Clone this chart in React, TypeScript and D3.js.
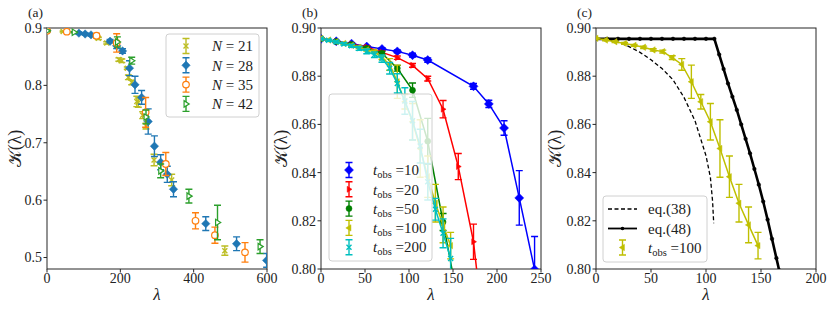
import React from 'react'
import * as d3 from 'd3'

// ---------- panel (a) ----------
const lamA21 = [0, 44, 140, 163, 196, 204, 219, 222, 231, 245, 249, 261, 270, 292, 340, 485]
const kA21 = [0.895, 0.894, 0.882, 0.874, 0.845, 0.843, 0.83, 0.814, 0.805, 0.772, 0.77, 0.748, 0.729, 0.67, 0.635, 0.512]
const errA21 = [0.001, 0.001, 0.002, 0.002, 0.003, 0.003, 0.002, 0.004, 0.004, 0.009, 0.008, 0.006, 0.005, 0.01, 0.01, 0.008]

const lamA28 = [0, 87, 104, 120, 172, 190, 206, 225, 240, 258, 276, 293, 310, 328, 345, 433, 517, 599]
const kA28 = [0.895, 0.891, 0.8895, 0.888, 0.877, 0.869, 0.86, 0.83, 0.801, 0.779, 0.737, 0.694, 0.666, 0.645, 0.619, 0.559, 0.524, 0.495]
const errA28 = [0.001, 0.002, 0.002, 0.002, 0.003, 0.005, 0.004, 0.013, 0.015, 0.012, 0.022, 0.018, 0.013, 0.014, 0.013, 0.012, 0.012, 0.012]

const lamA35 = [0, 54, 135, 190, 269, 324, 405, 458, 540]
const kA35 = [0.895, 0.8936, 0.8866, 0.874, 0.753, 0.663, 0.564, 0.539, 0.509]
const errA35 = [0.001, 0.001, 0.004, 0.016, 0.026, 0.02, 0.014, 0.014, 0.017]

const lamA42 = [0, 74, 192, 231, 270, 310, 387, 465, 581]
const kA42 = [0.895, 0.8925, 0.8756, 0.843, 0.745, 0.651, 0.607, 0.561, 0.519]
const errA42 = [0.001, 0.001, 0.009, 0.006, 0.012, 0.012, 0.012, 0.03, 0.012]

const labelsA = ['21', '28', '35', '42']

// ---------- panel (b) ----------
const lamT10 = [0, 17.3, 34.7, 52, 69.3, 86.7, 104, 121.3, 173.3, 190.7, 208, 225.3, 242.7]
const kT10 = [0.8955, 0.8945, 0.8935, 0.8923, 0.8913, 0.8903, 0.8887, 0.8867, 0.8758, 0.8685, 0.8585, 0.8295, 0.7998]
const errT10 = [0.0003, 0.0003, 0.0003, 0.0004, 0.0005, 0.0006, 0.0008, 0.0009, 0.0012, 0.0015, 0.003, 0.0113, 0.0137]

const lamT20 = [0, 17.3, 34.7, 52, 69.3, 86.7, 104, 121.3, 138.7, 156, 173.3, 190.7]
const kT20 = [0.8955, 0.8944, 0.8933, 0.8921, 0.8899, 0.8877, 0.8845, 0.879, 0.8663, 0.8425, 0.8113, 0.755]
const errT20 = [0.0003, 0.0003, 0.0004, 0.0005, 0.0006, 0.0007, 0.0008, 0.001, 0.0036, 0.0054, 0.0073, 0.01]

const lamT50 = [0, 17.3, 34.7, 52, 69.3, 86.7, 104, 121.3, 138.7, 156]
const kT50 = [0.8955, 0.8944, 0.8932, 0.8916, 0.8895, 0.8833, 0.8742, 0.853, 0.8195, 0.786]
const errT50 = [0.0003, 0.0003, 0.0004, 0.0005, 0.0008, 0.0012, 0.003, 0.0095, 0.0035, 0.008]

const lamT100 = [0, 8.7, 17.3, 26, 34.7, 43.3, 52, 60.7, 69.3, 78, 86.7, 95.3, 104, 112.7, 121.3, 130, 138.7, 147.3]
const kT100 = [0.8957, 0.895, 0.8943, 0.8936, 0.8928, 0.892, 0.8909, 0.8902, 0.8877, 0.8849, 0.8777, 0.8694, 0.8611, 0.85, 0.8383, 0.8273, 0.8183, 0.8097]
const errT100 = [0.0003, 0.0003, 0.0003, 0.0004, 0.0004, 0.0005, 0.0005, 0.0006, 0.0008, 0.0024, 0.0069, 0.003, 0.0076, 0.0119, 0.0086, 0.0078, 0.0074, 0.0055]

const lamT200 = [0, 8.7, 17.3, 26, 34.7, 43.3, 52, 60.7, 69.3, 78, 86.7, 95.3, 104, 112.7, 121.3, 130, 138.7, 147.3]
const kT200 = [0.8955, 0.8949, 0.8942, 0.8934, 0.8926, 0.8915, 0.8903, 0.8889, 0.8873, 0.8833, 0.877, 0.8697, 0.8615, 0.851, 0.8362, 0.8248, 0.8148, 0.8044]
const errT200 = [0.0003, 0.0004, 0.0004, 0.0005, 0.0006, 0.0008, 0.001, 0.0012, 0.0015, 0.0024, 0.004, 0.0055, 0.008, 0.007, 0.0076, 0.0045, 0.006, 0.0083]

const labelsB = ['10', '20', '50', '100', '200']

// ---------- panel (c) ----------
const lam38 = [0, 10, 20, 30, 40, 50, 60, 70, 80, 90, 100, 104, 106, 107]
const k38 = [0.8957, 0.8953, 0.8941, 0.8923, 0.8899, 0.8868, 0.8832, 0.8785, 0.8712, 0.8615, 0.847, 0.838, 0.828, 0.819]

const lam48 = [0, 10, 20, 30, 40, 50, 60, 70, 80, 90, 100, 107.6, 112, 116, 120, 124, 128, 132, 136, 140, 144, 148, 152, 156, 160, 164, 166.5]
const k48 = [0.8955, 0.8955, 0.8955, 0.8955, 0.8955, 0.8955, 0.8955, 0.8955, 0.8955, 0.8955, 0.8955, 0.8955, 0.889, 0.883, 0.877, 0.8715, 0.866, 0.86, 0.854, 0.848, 0.8415, 0.835, 0.828, 0.8205, 0.8125, 0.8045, 0.7995]

// ticks
const ticksAX = [0, 200, 400, 600]
const ticksAY = [0.5, 0.6, 0.7, 0.8, 0.9]
const ticksBX = [0, 50, 100, 150, 200, 250]
const ticksBY = [0.8, 0.82, 0.84, 0.86, 0.88, 0.9]
const ticksCX = [0, 50, 100, 150, 200]
const ticksCY = [0.8, 0.82, 0.84, 0.86, 0.88, 0.9]

const FONT = 'Liberation Serif'
const TOP = 28
const BOTTOM = 269

type Shape = 'x' | 'D' | 'o' | '>' | '<' | 'dot'

const Mark = ({ m, x, y, c, s, open }: { m: Shape; x: number; y: number; c: string; s: number; open?: boolean }) => {
    const fill = open ? 'white' : c
    if (m === 'x')
        return <path d={`M${x - s},${y - s}L${x + s},${y + s}M${x - s},${y + s}L${x + s},${y - s}`} stroke={c} strokeWidth={1.4} />
    if (m === 'D') return <path d={`M${x},${y - s}L${x + s},${y}L${x},${y + s}L${x - s},${y}Z`} fill={fill} stroke={c} strokeWidth={open ? 1.2 : 0.5} />
    if (m === 'o' || m === 'dot') return <circle cx={x} cy={y} r={s} fill={fill} stroke={c} strokeWidth={open ? 1.2 : 0.5} />
    if (m === '>')
        return <path d={`M${x + s},${y}L${x - s * 0.6},${y - s}L${x - s * 0.6},${y + s}Z`} fill={fill} stroke={c} strokeWidth={open ? 1.2 : 0.5} />
    return <path d={`M${x - s},${y}L${x + s * 0.6},${y - s}L${x + s * 0.6},${y + s}Z`} fill={fill} stroke={c} strokeWidth={0.5} />
}

interface SeriesDef {
    lam: number[]
    k: number[]
    err?: number[]
    color: string
    m: Shape
    s: number
    open?: boolean
    line?: boolean
    lw?: number
    dash?: string
}

const Series = ({ d, x, y, clip }: { d: SeriesDef; x: d3.ScaleLinear<number, number>; y: d3.ScaleLinear<number, number>; clip: string }) => {
    const pts = d.lam.map((l, i) => [x(l), y(d.k[i])] as [number, number])
    const line = d3.line()(pts) || ''
    const cap = 3.5
    return (
        <g clipPath={`url(#${clip})`}>
            {d.line && <path d={line} fill="none" stroke={d.color} strokeWidth={d.lw ?? 1.5} strokeDasharray={d.dash} />}
            {d.err &&
                d.lam.map((l, i) => {
                    const px = x(l)
                    const y1 = y(d.k[i] - d.err![i])
                    const y2 = y(d.k[i] + d.err![i])
                    return (
                        <path
                            key={'e' + i}
                            d={`M${px},${y1}V${y2}M${px - cap},${y1}H${px + cap}M${px - cap},${y2}H${px + cap}`}
                            stroke={d.color}
                            strokeWidth={1.4}
                            fill="none"
                        />
                    )
                })}
            {d.s > 0 ? pts.map(([px, py], i) => <Mark key={'m' + i} m={d.m} x={px} y={py} c={d.color} s={d.s} open={d.open} />) : null}
        </g>
    )
}

const Axes = ({
    x,
    y,
    tx,
    ty,
    fmt,
    tag,
    ylabX,
    clip,
}: {
    x: d3.ScaleLinear<number, number>
    y: d3.ScaleLinear<number, number>
    tx: number[]
    ty: number[]
    fmt: (n: number) => string
    tag: string
    ylabX: number
    clip: string
}) => {
    const [x0, x1] = x.range()
    const [y0, y1] = y.range()
    return (
        <g>
            <defs>
                <clipPath id={clip}>
                    <rect x={x0} y={y1} width={x1 - x0} height={y0 - y1} />
                </clipPath>
            </defs>
            <rect x={x0} y={y1} width={x1 - x0} height={y0 - y1} fill="none" stroke="#262626" strokeWidth={1} />
            {tx.map((t) => (
                <g key={'x' + t}>
                    <line x1={x(t)} x2={x(t)} y1={y0} y2={y0 + 3.5} stroke="#262626" />
                    <text x={x(t)} y={283} textAnchor="middle" fontSize={14} fill="#222">
                        {t}
                    </text>
                </g>
            ))}
            {ty.map((t) => (
                <g key={'y' + t}>
                    <line x1={x0 - 3.5} x2={x0} y1={y(t)} y2={y(t)} stroke="#262626" />
                    <text x={x0 - 5} y={y(t)} dy="0.35em" textAnchor="end" fontSize={14} fill="#222">
                        {fmt(t)}
                    </text>
                </g>
            ))}
            <text x={(x0 + x1) / 2} y={300} textAnchor="middle" fontSize={17} fontStyle="italic" fill="#222">
                λ
            </text>
            <text
                transform={`translate(${ylabX},${(y0 + y1) / 2}) rotate(-90)`}
                textAnchor="middle"
                dy="0.35em"
                fontSize={18}
                fill="#222"
            >
                𝒦(λ)
            </text>
            <text x={x0 - 19} y={17} fontSize={13.5} fill="#222">
                {tag}
            </text>
        </g>
    )
}

const ErrHandle = ({ cx, cy, d }: { cx: number; cy: number; d: SeriesDef }) => (
    <g>
        <path d={`M${cx},${cy - 7.5}V${cy + 7.5}M${cx - 3.5},${cy - 7.5}H${cx + 3.5}M${cx - 3.5},${cy + 7.5}H${cx + 3.5}`} stroke={d.color} strokeWidth={1.4} />
        <Mark m={d.m} x={cx} y={cy} c={d.color} s={d.s} open={d.open} />
    </g>
)

const TLabel = ({ x, y, v }: { x: number; y: number; v: string }) => (
    <text x={x} y={y} dy="0.35em" fontSize={15} fill="#222">
        <tspan fontStyle="italic">t</tspan>
        <tspan fontSize={10.5} dy={3}>
            obs
        </tspan>
        <tspan dy={-3}> ={v}</tspan>
    </text>
)

export default function App() {
    const xA = d3.scaleLinear([0, 600], [47, 267])
    const yA = d3.scaleLinear([0.48, 0.9], [BOTTOM, TOP])
    const xB = d3.scaleLinear([0, 250], [321, 541])
    const yB = d3.scaleLinear([0.8, 0.9], [BOTTOM, TOP])
    const xC = d3.scaleLinear([0, 200], [596, 816])
    const yC = d3.scaleLinear([0.8, 0.9], [BOTTOM, TOP])

    const seriesA: SeriesDef[] = [
        { lam: lamA21, k: kA21, err: errA21, color: '#bcbd22', m: 'x', s: 2.5 },
        { lam: lamA28, k: kA28, err: errA28, color: '#1f77b4', m: 'D', s: 4.2 },
        { lam: lamA35, k: kA35, err: errA35, color: '#ff7f0e', m: 'o', s: 3.3, open: true },
        { lam: lamA42, k: kA42, err: errA42, color: '#2ca02c', m: '>', s: 3.2, open: true },
    ]
    const seriesB: SeriesDef[] = [
        { lam: lamT10, k: kT10, err: errT10, color: '#0000ff', m: 'D', s: 4.5, line: true },
        { lam: lamT20, k: kT20, err: errT20, color: '#ff0000', m: '>', s: 3, line: true },
        { lam: lamT50, k: kT50, err: errT50, color: '#008000', m: 'o', s: 3, line: true },
        { lam: lamT100, k: kT100, err: errT100, color: '#bfbf00', m: '<', s: 3.2, line: true },
        { lam: lamT200, k: kT200, err: errT200, color: '#00bfbf', m: 'x', s: 2.5, line: true },
    ]
    const yellowC: SeriesDef = { lam: lamT100, k: kT100, err: errT100, color: '#bfbf00', m: '<', s: 3.2, line: true }
    const eq38: SeriesDef = { lam: lam38, k: k38, color: '#000', m: 'dot', s: 0, line: true, lw: 1.3, dash: '4,2.5' }
    const eq48: SeriesDef = { lam: lam48, k: k48, color: '#000', m: 'dot', s: 1.8, line: true, lw: 2.6 }

    return (
        <svg width={831} height={310} fontFamily={FONT} style={{ position: 'absolute', left: 0, top: 0, background: '#fff' }}>
            {/* (a) */}
            <Axes x={xA} y={yA} tx={ticksAX} ty={ticksAY} fmt={d3.format('.1f')} tag="(a)" ylabX={15} clip="clipA" />
            {seriesA.map((d, i) => (
                <Series key={i} d={d} x={xA} y={yA} clip="clipA" />
            ))}
            <rect x={166} y={34} width={93} height={83} rx={3} fill="white" fillOpacity={0.8} stroke="#d0d0d0" />
            {seriesA.map((d, i) => (
                <g key={'la' + i}>
                    <ErrHandle cx={186} cy={46 + i * 19.3} d={d} />
                    <text x={212} y={46 + i * 19.3} dy="0.35em" fontSize={15} fill="#222">
                        <tspan fontStyle="italic">N</tspan> = {labelsA[i]}
                    </text>
                </g>
            ))}

            {/* (b) */}
            <Axes x={xB} y={yB} tx={ticksBX} ty={ticksBY} fmt={d3.format('.2f')} tag="(b)" ylabX={281} clip="clipB" />
            {seriesB.map((d, i) => (
                <Series key={i} d={d} x={xB} y={yB} clip="clipB" />
            ))}
            <rect x={329} y={94} width={103} height={167} rx={3} fill="white" fillOpacity={0.8} stroke="#d0d0d0" />
            {seriesB.map((d, i) => (
                <g key={'lb' + i}>
                    <ErrHandle cx={349} cy={170 + i * 19.3} d={d} />
                    <TLabel x={373} y={170 + i * 19.3} v={labelsB[i]} />
                </g>
            ))}

            {/* (c) */}
            <Axes x={xC} y={yC} tx={ticksCX} ty={ticksCY} fmt={d3.format('.2f')} tag="(c)" ylabX={555} clip="clipC" />
            <Series d={eq38} x={xC} y={yC} clip="clipC" />
            <Series d={eq48} x={xC} y={yC} clip="clipC" />
            <Series d={yellowC} x={xC} y={yC} clip="clipC" />
            <rect x={603} y={196} width={104} height={66} rx={3} fill="white" fillOpacity={0.8} stroke="#d0d0d0" />
            <line x1={608} x2={637} y1={209} y2={209} stroke="#000" strokeWidth={1.3} strokeDasharray="4,2.5" />
            <text x={648} y={209} dy="0.35em" fontSize={15} fill="#222">
                eq.(38)
            </text>
            <line x1={608} x2={637} y1={228.5} y2={228.5} stroke="#000" strokeWidth={1.8} />
            <circle cx={622.5} cy={228.5} r={1.8} fill="#000" />
            <text x={648} y={228.5} dy="0.35em" fontSize={15} fill="#222">
                eq.(48)
            </text>
            <ErrHandle cx={622.5} cy={247.5} d={yellowC} />
            <TLabel x={648} y={247.5} v="100" />
        </svg>
    )
}
